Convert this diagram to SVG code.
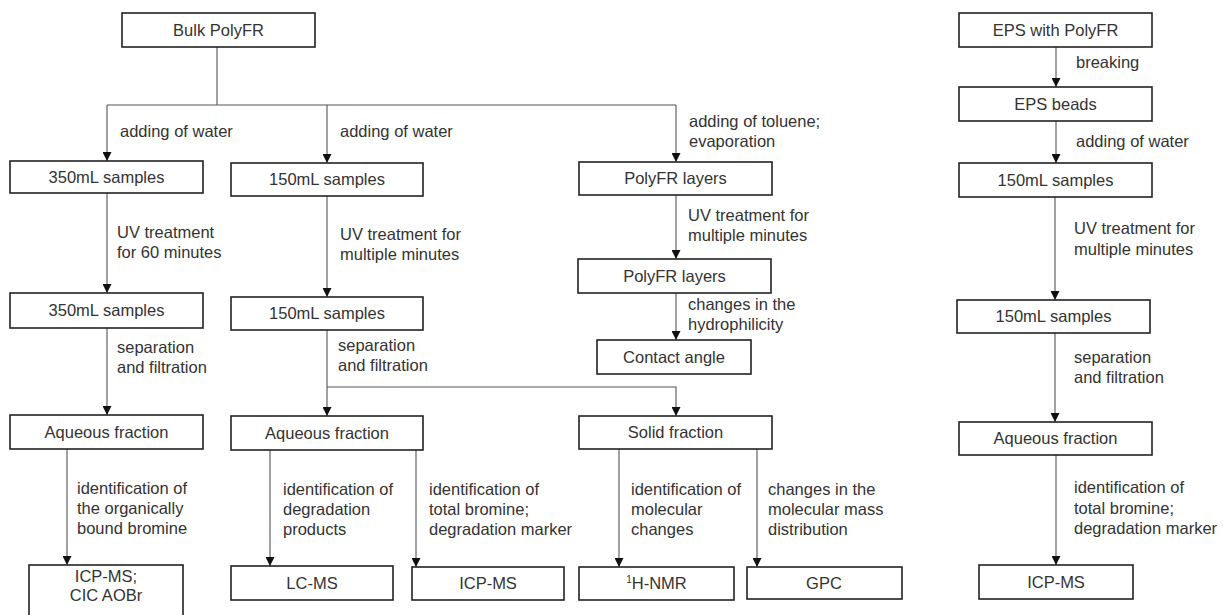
<svg xmlns="http://www.w3.org/2000/svg" width="1223" height="615" viewBox="0 0 1223 615">
<style>
.box{fill:#fff;stroke:#222;stroke-width:1.6}
.bt{font-family:"Liberation Sans",Arial,sans-serif;font-size:16.5px;fill:#333;text-anchor:middle}
.lt{font-family:"Liberation Sans",Arial,sans-serif;font-size:16.5px;fill:#333}
.c{fill:none;stroke:#555;stroke-width:1.1}
</style>
<defs>
<marker id="ah" viewBox="0 0 10 10" refX="10" refY="5" markerWidth="9" markerHeight="9" markerUnits="userSpaceOnUse" orient="auto">
<path d="M0,0 L10,5 L0,10 z" fill="#111"/>
</marker>
</defs>
<rect width="1223" height="615" fill="#fff"/>
<g id="connectors">
<path class="c" d="M217,47 V105 M107,105 H676"/>
<path class="c" d="M107,105 V161" marker-end="url(#ah)"/>
<path class="c" d="M327,105 V163" marker-end="url(#ah)"/>
<path class="c" d="M676,105 V162" marker-end="url(#ah)"/>
<path class="c" d="M107,193 V293" marker-end="url(#ah)"/>
<path class="c" d="M107,328 V415" marker-end="url(#ah)"/>
<path class="c" d="M67,449 V565" marker-end="url(#ah)"/>
<path class="c" d="M327,196 V297" marker-end="url(#ah)"/>
<path class="c" d="M327,330 V416" marker-end="url(#ah)"/>
<path class="c" d="M327,387 H676 V416" marker-end="url(#ah)"/>
<path class="c" d="M270,450 V566" marker-end="url(#ah)"/>
<path class="c" d="M416,450 V567" marker-end="url(#ah)"/>
<path class="c" d="M676,195 V259" marker-end="url(#ah)"/>
<path class="c" d="M676,293 V340" marker-end="url(#ah)"/>
<path class="c" d="M619,449 V567" marker-end="url(#ah)"/>
<path class="c" d="M757,449 V567" marker-end="url(#ah)"/>
<path class="c" d="M1056,47 V87" marker-end="url(#ah)"/>
<path class="c" d="M1056,121 V163" marker-end="url(#ah)"/>
<path class="c" d="M1055,197 V300" marker-end="url(#ah)"/>
<path class="c" d="M1055,333 V422" marker-end="url(#ah)"/>
<path class="c" d="M1056,455 V565" marker-end="url(#ah)"/>
</g>
<g id="labels">
<text class="lt" x="120" y="137">adding of water</text>
<text class="lt" x="340" y="137">adding of water</text>
<text class="lt" x="689" y="127">adding of toluene;</text>
<text class="lt" x="689" y="147">evaporation</text>
<text class="lt" x="117" y="238">UV treatment</text>
<text class="lt" x="117" y="258">for 60 minutes</text>
<text class="lt" x="340" y="240">UV treatment for</text>
<text class="lt" x="340" y="260">multiple minutes</text>
<text class="lt" x="688" y="221">UV treatment for</text>
<text class="lt" x="688" y="241">multiple minutes</text>
<text class="lt" x="688" y="310">changes in the</text>
<text class="lt" x="688" y="330">hydrophilicity</text>
<text class="lt" x="117" y="353">separation</text>
<text class="lt" x="117" y="373">and filtration</text>
<text class="lt" x="338" y="351">separation</text>
<text class="lt" x="338" y="371">and filtration</text>
<text class="lt" x="77" y="494">identification of</text>
<text class="lt" x="77" y="514">the organically</text>
<text class="lt" x="77" y="534">bound bromine</text>
<text class="lt" x="283" y="495">identification of</text>
<text class="lt" x="283" y="515">degradation</text>
<text class="lt" x="283" y="535">products</text>
<text class="lt" x="429" y="495">identification of</text>
<text class="lt" x="429" y="515">total bromine;</text>
<text class="lt" x="429" y="535">degradation marker</text>
<text class="lt" x="631" y="495">identification of</text>
<text class="lt" x="631" y="515">molecular</text>
<text class="lt" x="631" y="535">changes</text>
<text class="lt" x="768" y="495">changes in the</text>
<text class="lt" x="768" y="515">molecular mass</text>
<text class="lt" x="768" y="535">distribution</text>
<text class="lt" x="1076" y="68">breaking</text>
<text class="lt" x="1076" y="147">adding of water</text>
<text class="lt" x="1074" y="234">UV treatment for</text>
<text class="lt" x="1074" y="255">multiple minutes</text>
<text class="lt" x="1074" y="363">separation</text>
<text class="lt" x="1074" y="383">and filtration</text>
<text class="lt" x="1074" y="493">identification of</text>
<text class="lt" x="1074" y="514">total bromine;</text>
<text class="lt" x="1074" y="534">degradation marker</text>
</g>
<g id="n-bulk"><rect class="box" x="122" y="13" width="193" height="34"/><text class="bt" x="218.5" y="36">Bulk PolyFR</text></g>
<g id="n-350a"><rect class="box" x="10" y="161" width="193" height="32"/><text class="bt" x="106.5" y="183">350mL samples</text></g>
<g id="n-150a"><rect class="box" x="231" y="163" width="192" height="33"/><text class="bt" x="327" y="185">150mL samples</text></g>
<g id="n-layers1"><rect class="box" x="579" y="162" width="193" height="33"/><text class="bt" x="675.5" y="184">PolyFR layers</text></g>
<g id="n-350b"><rect class="box" x="10" y="293" width="193" height="35"/><text class="bt" x="106.5" y="316">350mL samples</text></g>
<g id="n-150b"><rect class="box" x="231" y="297" width="192" height="33"/><text class="bt" x="327" y="319">150mL samples</text></g>
<g id="n-layers2"><rect class="box" x="578" y="259" width="193" height="34"/><text class="bt" x="674.5" y="282">PolyFR layers</text></g>
<g id="n-contact"><rect class="box" x="597" y="340" width="154" height="34"/><text class="bt" x="674" y="363">Contact angle</text></g>
<g id="n-aq1"><rect class="box" x="10" y="415" width="193" height="34"/><text class="bt" x="106.5" y="438">Aqueous fraction</text></g>
<g id="n-aq2"><rect class="box" x="231" y="416" width="192" height="34"/><text class="bt" x="327" y="439">Aqueous fraction</text></g>
<g id="n-solid"><rect class="box" x="579" y="416" width="193" height="33"/><text class="bt" x="675.5" y="438">Solid fraction</text></g>
<g id="n-icpcic"><rect class="box" x="29" y="565" width="154" height="60"/><text class="bt" x="106" y="582">ICP-MS;</text><text class="bt" x="106" y="601">CIC AOBr</text></g>
<g id="n-lcms"><rect class="box" x="231" y="566" width="162" height="34"/><text class="bt" x="312" y="589">LC-MS</text></g>
<g id="n-icp1"><rect class="box" x="412" y="567" width="152" height="33"/><text class="bt" x="488" y="589">ICP-MS</text></g>
<g id="n-nmr"><rect class="box" x="579" y="567" width="155" height="33"/><text class="bt" x="656.5" y="589"><tspan font-size="10" dy="-6">1</tspan><tspan dy="6">H-NMR</tspan></text></g>
<g id="n-gpc"><rect class="box" x="747" y="567" width="155" height="32"/><text class="bt" x="824" y="589">GPC</text></g>
<g id="n-eps"><rect class="box" x="959" y="13" width="193" height="34"/><text class="bt" x="1055.5" y="36">EPS with PolyFR</text></g>
<g id="n-beads"><rect class="box" x="959" y="87" width="193" height="34"/><text class="bt" x="1055.5" y="110">EPS beads</text></g>
<g id="n-150c"><rect class="box" x="959" y="163" width="193" height="34"/><text class="bt" x="1055.5" y="186">150mL samples</text></g>
<g id="n-150d"><rect class="box" x="957" y="300" width="193" height="33"/><text class="bt" x="1053.5" y="322">150mL samples</text></g>
<g id="n-aq3"><rect class="box" x="959" y="422" width="193" height="33"/><text class="bt" x="1055.5" y="444">Aqueous fraction</text></g>
<g id="n-icp2"><rect class="box" x="979" y="565" width="154" height="34"/><text class="bt" x="1056" y="588">ICP-MS</text></g>
</svg>
